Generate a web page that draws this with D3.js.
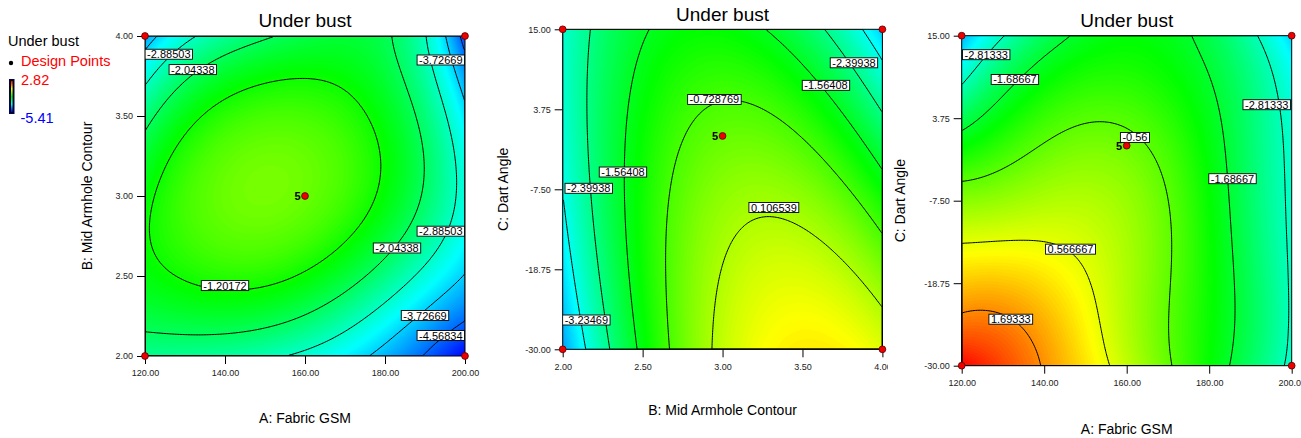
<!DOCTYPE html>
<html><head><meta charset="utf-8">
<script src="https://cdn.jsdelivr.net/npm/d3@7"></script>
<style>
html,body{margin:0;padding:0;background:#fff;}
svg{display:block;font-family:"Liberation Sans",Arial,Helvetica,sans-serif;}
</style></head><body>
<svg id="c" width="1301" height="438"></svg>
<script>
// ---------------- data ----------------
const responseName = "Under bust";
const legendPointsLabel = "Design Points";
const colorMin = -5.41, colorMax = 2.82;
const colorStops = ["#0000ff", "#00ffff", "#00ff00", "#ffff00", "#ff0000"];

// Panel 1: A (Fabric GSM) x B (Mid Armhole Contour)
const p1X = [120, 140, 160, 180, 200];
const p1Y = [2.0, 2.5, 3.0, 3.5, 4.0];
const p1Z = [ // rows follow p1Y, columns follow p1X
  [-2.47, -2.58, -3.03, -3.95, -5.41],
  [-1.41, -1.00, -1.28, -2.36, -3.76],
  [-1.36, -0.45, -0.46, -1.35, -3.13],
  [-2.29, -0.96, -0.75, -1.45, -3.55],
  [-4.10, -2.50, -1.85, -1.95, -4.90]
];
const p1Levels = [-1.20172, -2.04338, -2.88503, -3.72669, -4.56834];
const p1LabelText = ["-2.88503", "-2.04338", "-3.72669", "-2.88503", "-2.04338", "-1.20172", "-3.72669", "-4.56834"];
const p1LabelX = [125.95, 131.95, 193.95, 193.95, 183.0, 140.0, 190.0, 193.95];
const p1LabelY = [3.886, 3.79, 3.85, 2.78, 2.675, 2.44, 2.253, 2.128];
const p1PointX = [120, 120, 200, 200, 160];
const p1PointY = [2, 4, 2, 4, 3];
const p1PointText = ["", "", "", "", "5"];
const p1XTicks = [120, 140, 160, 180, 200];
const p1YTicks = [2.0, 2.5, 3.0, 3.5, 4.0];

// Panel 2: B (Mid Armhole Contour) x C (Dart Angle)
const p2X = [2.0, 2.5, 3.0, 3.5, 4.0];
const p2Y = [-30, -18.75, -7.5, 3.75, 15];
const p2Z = [
  [-4.12, -1.41, 0.27, 0.91, 0.52],
  [-3.59, -1.22, 0.12, 0.43, -0.31],
  [-3.22, -1.19, -0.19, -0.23, -1.30],
  [-3.02, -1.33, -0.67, -1.04, -2.45],
  [-2.99, -1.63, -1.31, -2.02, -3.77]
];
const p2Levels = [0.106539, -0.728769, -1.56408, -2.39938, -3.23469];
const p2LabelText = ["-2.39938", "-1.56408", "-0.728769", "-1.56408", "-2.39938", "0.106539", "-3.23469"];
const p2LabelX = [3.822, 3.647, 2.949, 2.377, 2.163, 3.321, 2.148];
const p2LabelY = [10.29, 7.12, 5.13, -5.07, -7.36, -10.06, -25.88];
const p2PointX = [2, 2, 4, 4, 3];
const p2PointY = [-30, 15, -30, 15, 0];
const p2PointText = ["", "", "", "", "5"];
const p2XTicks = [2.0, 2.5, 3.0, 3.5, 4.0];
const p2YTicks = [-30, -18.75, -7.5, 3.75, 15];

// Panel 3: A (Fabric GSM) x C (Dart Angle)
const p3X = [120, 140, 160, 180, 200];
const p3Y = [-30, -18.75, -7.5, 3.75, 15];
const p3Z = [
  [2.82, 1.64, 0.27, -1.28, -2.97],
  [1.20, 1.02, 0.10, -1.22, -2.89],
  [-0.18, 0.10, -0.07, -1.28, -2.92],
  [-1.99, -0.85, -0.65, -1.50, -3.02],
  [-3.95, -2.04, -1.35, -1.91, -3.70]
];
const p3Levels = [1.69333, 0.566667, -0.56, -1.68667, -2.81333];
const p3LabelText = ["-2.81333", "-1.68667", "-2.81333", "-0.56", "-1.68667", "0.566667", "1.69333"];
const p3LabelX = [125.94, 132.9, 193.94, 162.0, 185.65, 146.38, 131.9];
const p3LabelY = [12.41, 9.03, 5.59, 1.12, -4.5, -14.11, -23.66];
const p3PointX = [120, 120, 200, 200, 160];
const p3PointY = [-30, 15, -30, 15, 0];
const p3PointText = ["", "", "", "", "5"];
const p3XTicks = [120, 140, 160, 180, 200];
const p3YTicks = [-30, -18.75, -7.5, 3.75, 15];

const xTitles = ["A: Fabric GSM", "B: Mid Armhole Contour", "A: Fabric GSM"];
const yTitles = ["B: Mid Armhole Contour", "C: Dart Angle", "C: Dart Angle"];

// ---------------- layout ----------------
const panels = [
  {left:145, top:36, w:320, h:320, xs:p1X, ys:p1Y, z:p1Z, levels:p1Levels,
   lt:p1LabelText, lx:p1LabelX, ly:p1LabelY, ptx:p1PointX, pty:p1PointY, ptt:p1PointText,
   xt:p1XTicks, yt:p1YTicks, titleY:27, xTitleY:423, yTitleX:91.5, cover:null},
  {left:562.7, top:29.3, w:319.7, h:320, xs:p2X, ys:p2Y, z:p2Z, levels:p2Levels,
   lt:p2LabelText, lx:p2LabelX, ly:p2LabelY, ptx:p2PointX, pty:p2PointY, ptt:p2PointText,
   xt:p2XTicks, yt:p2YTicks, titleY:21, xTitleY:415, yTitleX:508, cover:null},
  {left:961.7, top:35.7, w:330, h:330, xs:p3X, ys:p3Y, z:p3Z, levels:p3Levels,
   lt:p3LabelText, lx:p3LabelX, ly:p3LabelY, ptx:p3PointX, pty:p3PointY, ptt:p3PointText,
   xt:p3XTicks, yt:p3YTicks, titleY:27.3, xTitleY:434, yTitleX:905, cover:888}
];

const svg = d3.select("#c");
const defs = svg.append("defs");
const color = d3.scaleLinear()
  .domain(d3.range(colorStops.length).map(i => colorMin + i * (colorMax - colorMin) / (colorStops.length - 1)))
  .range(colorStops).clamp(true);

const nodes = [-1, -0.5, 0, 0.5, 1];
function lagr(t) {
  return nodes.map((tk, k) => {
    let p = 1;
    nodes.forEach((tj, j) => { if (j !== k) p *= (t - tj) / (tk - tj); });
    return p;
  });
}

function drawPanel(p, idx) {
  const g = svg.append("g");
  if (p.cover != null) {
    g.append("rect").attr("x", p.cover).attr("y", 0)
      .attr("width", 1301 - p.cover).attr("height", 438).attr("fill", "#fff");
  }
  const x = d3.scaleLinear().domain([p.xs[0], p.xs[p.xs.length - 1]]).range([p.left, p.left + p.w]);
  const y = d3.scaleLinear().domain([p.ys[0], p.ys[p.ys.length - 1]]).range([p.top + p.h, p.top]);
  const tx = d3.scaleLinear().domain(x.domain()).range([-1, 1]);
  const ty = d3.scaleLinear().domain(y.domain()).range([-1, 1]);
  const N = 200, M = 200;
  const gx = d3.scaleLinear().domain([0, N]).range(x.domain());
  const gy = d3.scaleLinear().domain([0, M]).range([y.domain()[1], y.domain()[0]]);
  const wx = d3.range(N).map(i => lagr(tx(gx(i + 0.5))));
  const wy = d3.range(M).map(j => lagr(ty(gy(j + 0.5))));
  const values = new Float64Array(N * M);
  for (let j = 0; j < M; j++) {
    for (let i = 0; i < N; i++) {
      let s = 0;
      for (let l = 0; l < 5; l++) {
        let r = 0;
        for (let k = 0; k < 5; k++) r += p.z[l][k] * wx[i][k];
        s += r * wy[j][l];
      }
      values[i + j * N] = s;
    }
  }
  const proj = d3.geoTransform({
    point: function (cx, cy) { this.stream.point(x(gx(cx)), y(gy(cy))); }
  });
  const path = d3.geoPath(proj);

  const clipId = "clip" + idx;
  defs.append("clipPath").attr("id", clipId).append("rect")
    .attr("x", p.left).attr("y", p.top).attr("width", p.w).attr("height", p.h);

  // colour field
  const vmin = d3.min(values), vmax = d3.max(values);
  const nb = 160, step = (colorMax - colorMin) / nb;
  const ths = [vmin].concat(d3.range(colorMin + step, vmax, step).filter(t => t > vmin));
  const bands = d3.contours().size([N, M]).thresholds(ths)(values);
  const bandColor = (d, i) => {
    const hi = i + 1 < ths.length ? ths[i + 1] : Math.min(ths[i] + step, vmax);
    return color((ths[i] + hi) / 2);
  };
  g.append("g").attr("clip-path", `url(#${clipId})`)
    .selectAll("path").data(bands).join("path")
    .attr("d", path)
    .attr("fill", bandColor)
    .attr("stroke", bandColor)
    .attr("stroke-width", 0.4);

  // contour lines
  const lines = p.levels.map(lv => d3.contours().size([N, M]).thresholds([lv])(values)[0]);
  g.append("g").attr("clip-path", `url(#${clipId})`)
    .selectAll("path").data(lines).join("path")
    .attr("d", path).attr("fill", "none").attr("stroke", "#000").attr("stroke-width", 1);

  // frame
  g.append("rect").attr("x", p.left).attr("y", p.top).attr("width", p.w).attr("height", p.h)
    .attr("fill", "none").attr("stroke", "#000").attr("stroke-width", 1);

  // contour labels
  const lg = g.append("g").attr("clip-path", `url(#${clipId})`);
  p.lt.forEach((t, i) => {
    const cx = x(p.lx[i]), cy = y(p.ly[i]);
    const gg = lg.append("g");
    const rect = gg.append("rect");
    const txt = gg.append("text").attr("x", cx).attr("y", cy + 4)
      .attr("text-anchor", "middle").attr("font-size", 11).attr("fill", "#000").text(t);
    const wdt = txt.node().getComputedTextLength();
    rect.attr("x", cx - wdt / 2 - 2).attr("y", cy - 5).attr("width", wdt + 4).attr("height", 10)
      .attr("fill", "#fff").attr("stroke", "#000").attr("stroke-width", 0.9);
  });

  // axes
  const fmt = d => d.toFixed(2);
  const ax = g.append("g").attr("transform", `translate(0,${p.top + p.h})`)
    .call(d3.axisBottom(x).tickValues(p.xt).tickFormat(fmt).tickSize(8).tickPadding(6));
  const ay = g.append("g").attr("transform", `translate(${p.left},0)`)
    .call(d3.axisLeft(y).tickValues(p.yt).tickFormat(fmt).tickSize(8).tickPadding(4));
  [ax, ay].forEach(a => {
    a.attr("font-family", null).attr("font-size", null);
    a.select(".domain").remove();
    a.selectAll(".tick line").attr("stroke", "#000");
    a.selectAll(".tick text").attr("font-size", 9).attr("fill", "#222");
  });

  // design points
  g.selectAll("circle.pt").data(p.ptx).join("circle").attr("class", "pt")
    .attr("cx", (d) => x(d)).attr("cy", (d, i) => y(p.pty[i])).attr("r", 3.4)
    .attr("fill", "#ee0000").attr("stroke", "#550000").attr("stroke-width", 0.8);
  p.ptt.forEach((t, i) => {
    if (!t) return;
    g.append("text").attr("x", x(p.ptx[i]) - 4.5).attr("y", y(p.pty[i]) + 4)
      .attr("text-anchor", "end").attr("font-size", 11).attr("font-weight", "bold").text(t);
  });

  // titles
  g.append("text").attr("x", p.left + p.w / 2).attr("y", p.titleY)
    .attr("text-anchor", "middle").attr("font-size", 19).text(responseName);
  g.append("text").attr("x", p.left + p.w / 2).attr("y", p.xTitleY)
    .attr("text-anchor", "middle").attr("font-size", 14).text(xTitles[idx]);
  g.append("text").attr("transform", `translate(${p.yTitleX},${p.top + p.h / 2}) rotate(-90)`)
    .attr("text-anchor", "middle").attr("font-size", 14).text(yTitles[idx]);
}

panels.forEach(drawPanel);

// legend
const leg = svg.append("g");
leg.append("text").attr("x", 8).attr("y", 46).attr("font-size", 14.5).text(responseName);
leg.append("circle").attr("cx", 11).attr("cy", 63).attr("r", 2.2).attr("fill", "#000");
leg.append("text").attr("x", 21).attr("y", 65.5).attr("font-size", 14.5).attr("fill", "#ff0000").text(legendPointsLabel);
leg.append("text").attr("x", 21).attr("y", 85).attr("font-size", 14.5).attr("fill", "#ff0000").text(colorMax.toFixed(2));
leg.append("text").attr("x", 20.5).attr("y", 122.5).attr("font-size", 14.5).attr("fill", "#0000ff").text(colorMin.toFixed(2));
const grad = defs.append("linearGradient").attr("id", "cbar").attr("x1", 0).attr("y1", 1).attr("x2", 0).attr("y2", 0);
color.domain().forEach((v, i) => {
  grad.append("stop").attr("offset", i / (color.domain().length - 1)).attr("stop-color", color(v));
});
leg.append("rect").attr("x", 9.5).attr("y", 79.5).attr("width", 4.5).attr("height", 34)
  .attr("fill", "#000").attr("stroke", "#000060").attr("stroke-width", 1);
leg.append("rect").attr("x", 11).attr("y", 81).attr("width", 1.6).attr("height", 31).attr("fill", "url(#cbar)");
</script>
</body></html>
